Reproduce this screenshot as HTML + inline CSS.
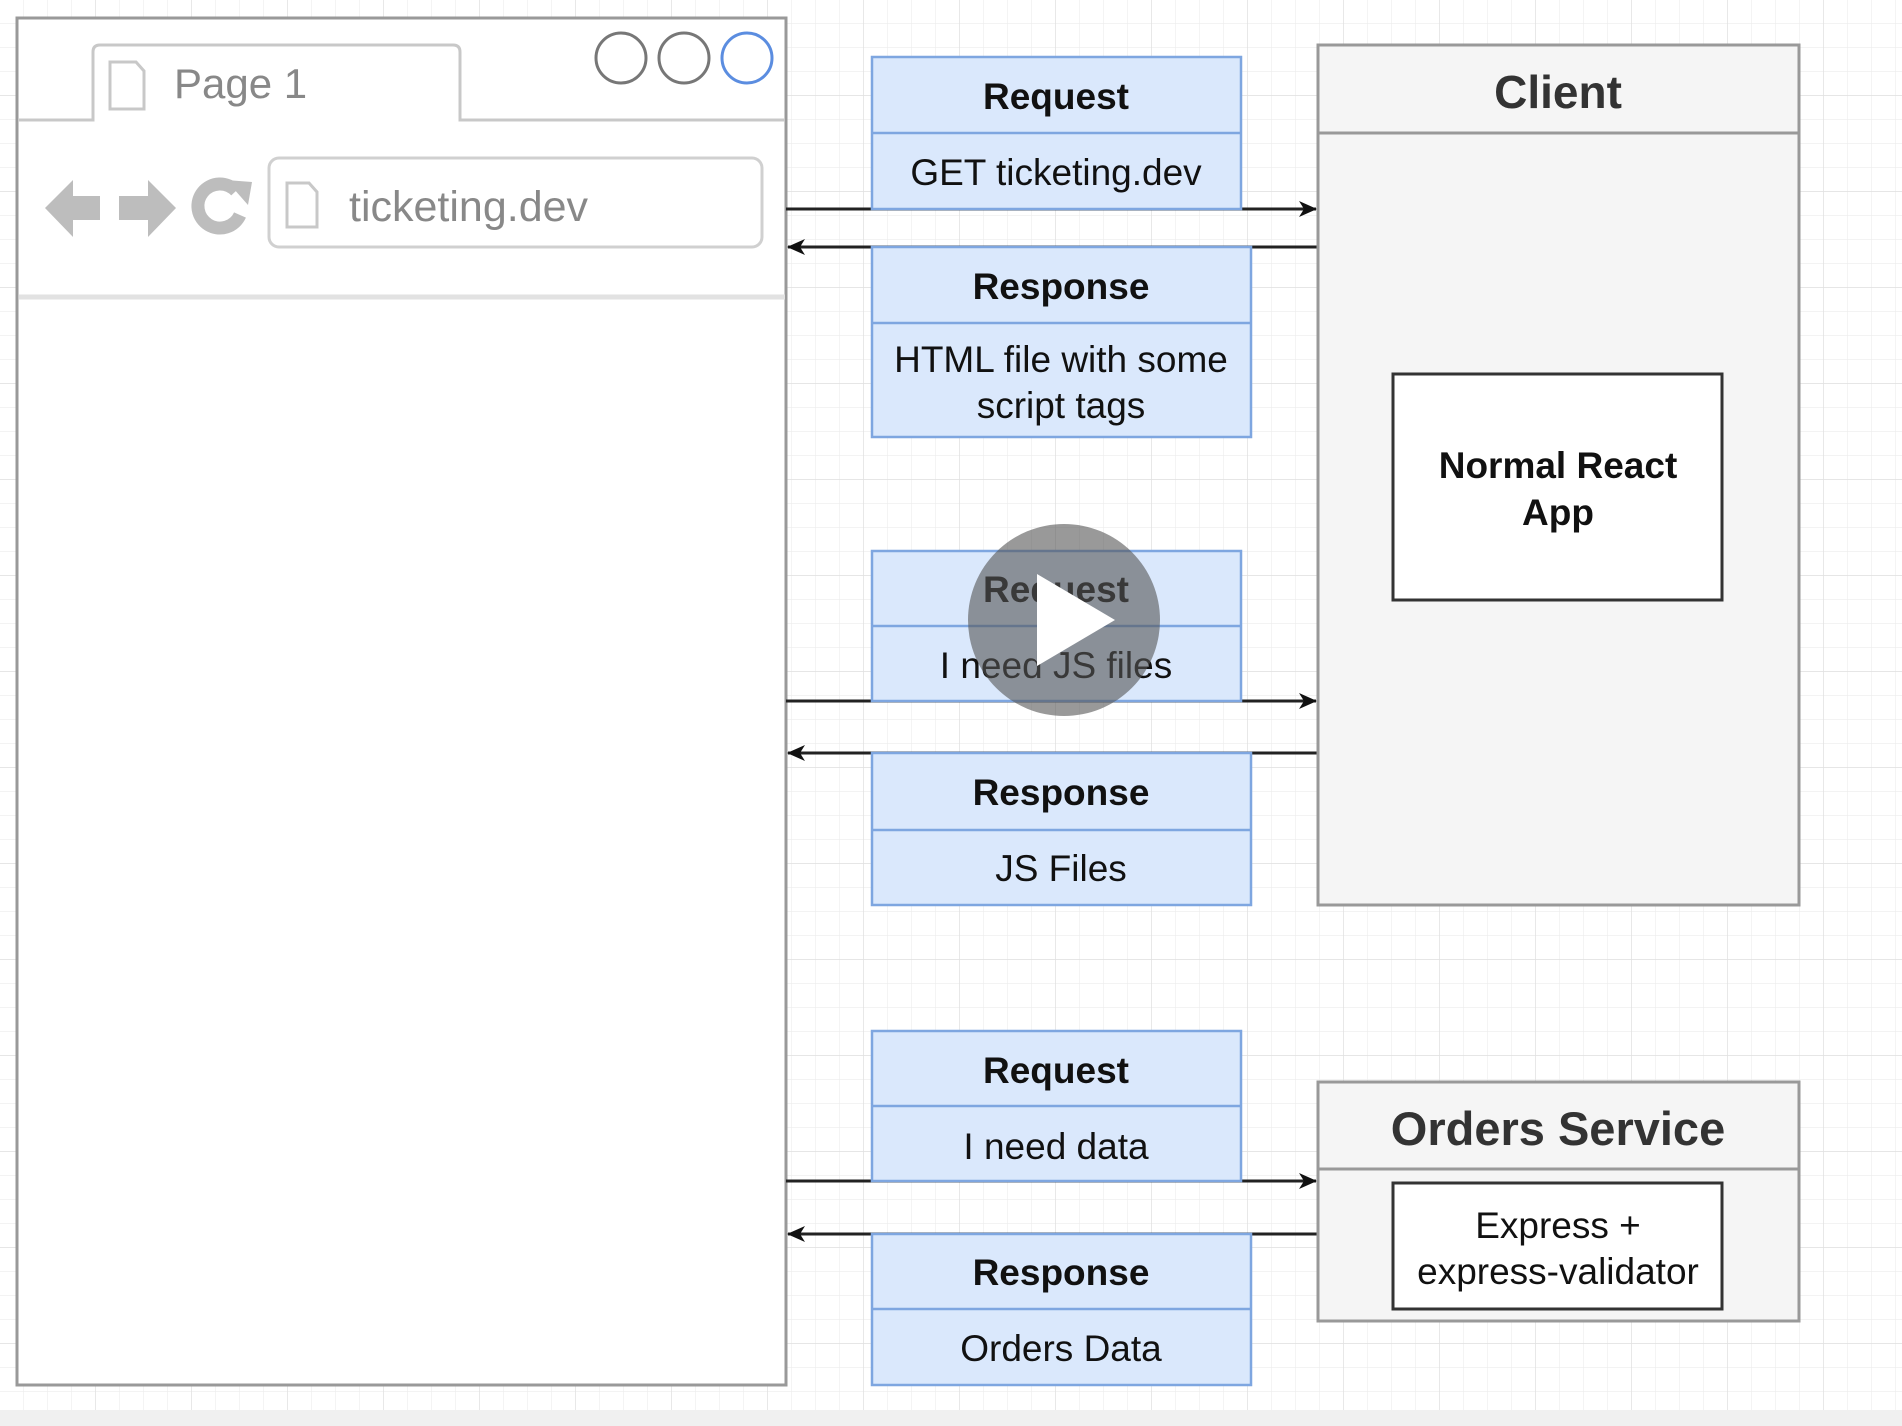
<!DOCTYPE html>
<html><head><meta charset="utf-8"><style>
html,body{margin:0;padding:0;width:1902px;height:1426px;overflow:hidden;background:#fff}
svg{display:block}
text{font-family:"Liberation Sans",sans-serif}
</style></head><body>
<svg width="1902" height="1426" viewBox="0 0 1902 1426" xmlns="http://www.w3.org/2000/svg">
<defs>
<pattern id="g" width="24" height="24" patternUnits="userSpaceOnUse"><path d="M24 0V24H0" fill="none" stroke="#ececec" stroke-width="1.2"/></pattern>
<pattern id="G" width="96" height="96" patternUnits="userSpaceOnUse"><rect width="96" height="96" fill="url(#g)"/><path d="M96 0V96H0" fill="none" stroke="#e0e0e0" stroke-width="1.4"/></pattern>
<marker id="ah" markerWidth="18" markerHeight="18" refX="17" refY="9" orient="auto" markerUnits="userSpaceOnUse"><path d="M0,1 L18,9 L0,17 L5,9z" fill="#111"/></marker>
</defs>
<rect width="1902" height="1426" fill="url(#G)"/>
<rect x="0" y="1410" width="1902" height="16" fill="#f0f0f0"/>

<rect x="17" y="18" width="769" height="1367" fill="#fff" stroke="#999" stroke-width="3"/>
<path d="M19 120H93V52Q93 45 100 45H453Q460 45 460 52V120H785" fill="none" stroke="#c8c8c8" stroke-width="3"/>
<path d="M110 62h26l8 9v38h-34z" fill="none" stroke="#c8c8c8" stroke-width="3"/>
<text x="174" y="98" font-size="42" fill="#888">Page 1</text>
<circle cx="621" cy="58" r="25" fill="none" stroke="#777" stroke-width="3"/>
<circle cx="684" cy="58" r="25" fill="none" stroke="#777" stroke-width="3"/>
<circle cx="747" cy="58" r="25" fill="none" stroke="#5b8de0" stroke-width="3"/>
<line x1="19" y1="297" x2="785" y2="297" stroke="#e2e2e2" stroke-width="5"/>
<rect x="269" y="158" width="493" height="89" rx="10" fill="#fff" stroke="#d0d0d0" stroke-width="3"/>
<path d="M287 183h22l8 9v35h-30z" fill="none" stroke="#c8c8c8" stroke-width="3"/>
<text x="349" y="221" font-size="43" fill="#888">ticketing.dev</text>
<path d="M45 208L73 180V196H100V220H73V237z" fill="#bdbdbd"/>
<path d="M176 208L148 180V196H119V220H148V237z" fill="#bdbdbd"/>
<path d="M240 215A22 22 0 1 1 236 191" fill="none" stroke="#bdbdbd" stroke-width="13"/>
<path d="M226 180L252 182L248 205z" fill="#bdbdbd"/>

<g stroke="#222" stroke-width="3">
<line x1="786" y1="209" x2="1316" y2="209" marker-end="url(#ah)"/>
<line x1="1318" y1="247" x2="788" y2="247" marker-end="url(#ah)"/>
<line x1="786" y1="701" x2="1316" y2="701" marker-end="url(#ah)"/>
<line x1="1318" y1="753" x2="788" y2="753" marker-end="url(#ah)"/>
<line x1="786" y1="1181" x2="1316" y2="1181" marker-end="url(#ah)"/>
<line x1="1318" y1="1234" x2="788" y2="1234" marker-end="url(#ah)"/>
</g>

<g fill="#dae8fc" stroke="#7ea6e0" stroke-width="2.5">
<rect x="872" y="57" width="369" height="152"/><line x1="872" y1="133" x2="1241" y2="133"/>
<rect x="872" y="247" width="379" height="190"/><line x1="872" y1="323" x2="1251" y2="323"/>
<rect x="872" y="551" width="369" height="150"/><line x1="872" y1="626" x2="1241" y2="626"/>
<rect x="872" y="753" width="379" height="152"/><line x1="872" y1="830" x2="1251" y2="830"/>
<rect x="872" y="1031" width="369" height="150"/><line x1="872" y1="1106" x2="1241" y2="1106"/>
<rect x="872" y="1234" width="379" height="151"/><line x1="872" y1="1309" x2="1251" y2="1309"/>
</g>
<g font-size="37" text-anchor="middle" fill="#111">
<text x="1056" y="109" font-weight="bold">Request</text>
<text x="1056" y="185">GET ticketing.dev</text>
<text x="1061" y="299" font-weight="bold">Response</text>
<text x="1061" y="372">HTML file with some</text>
<text x="1061" y="418">script tags</text>
<text x="1056" y="602" font-weight="bold">Request</text>
<text x="1056" y="678">I need JS files</text>
<text x="1061" y="805" font-weight="bold">Response</text>
<text x="1061" y="881">JS Files</text>
<text x="1056" y="1083" font-weight="bold">Request</text>
<text x="1056" y="1159">I need data</text>
<text x="1061" y="1285" font-weight="bold">Response</text>
<text x="1061" y="1361">Orders Data</text>
</g>

<rect x="1318" y="45" width="481" height="860" fill="#f5f5f5" stroke="#999" stroke-width="3"/>
<line x1="1318" y1="133" x2="1799" y2="133" stroke="#999" stroke-width="3"/>
<text x="1558" y="108" font-size="46" font-weight="bold" text-anchor="middle" fill="#333">Client</text>
<rect x="1393" y="374" width="329" height="226" fill="#fff" stroke="#333" stroke-width="3"/>
<text x="1558" y="478" font-size="37" font-weight="bold" text-anchor="middle" fill="#111">Normal React</text>
<text x="1558" y="525" font-size="37" font-weight="bold" text-anchor="middle" fill="#111">App</text>

<rect x="1318" y="1082" width="481" height="239" fill="#f5f5f5" stroke="#999" stroke-width="3"/>
<line x1="1318" y1="1169" x2="1799" y2="1169" stroke="#999" stroke-width="3"/>
<text x="1558" y="1145" font-size="47" font-weight="bold" text-anchor="middle" fill="#333">Orders Service</text>
<rect x="1393" y="1183" width="329" height="126" fill="#fff" stroke="#333" stroke-width="3"/>
<text x="1558" y="1238" font-size="37" text-anchor="middle" fill="#111">Express +</text>
<text x="1558" y="1284" font-size="37" text-anchor="middle" fill="#111">express-validator</text>

<circle cx="1064" cy="620" r="96" fill="#555" fill-opacity="0.6"/>
<path d="M1037 574L1037 666L1115 620z" fill="#fff"/>
</svg>
</body></html>
